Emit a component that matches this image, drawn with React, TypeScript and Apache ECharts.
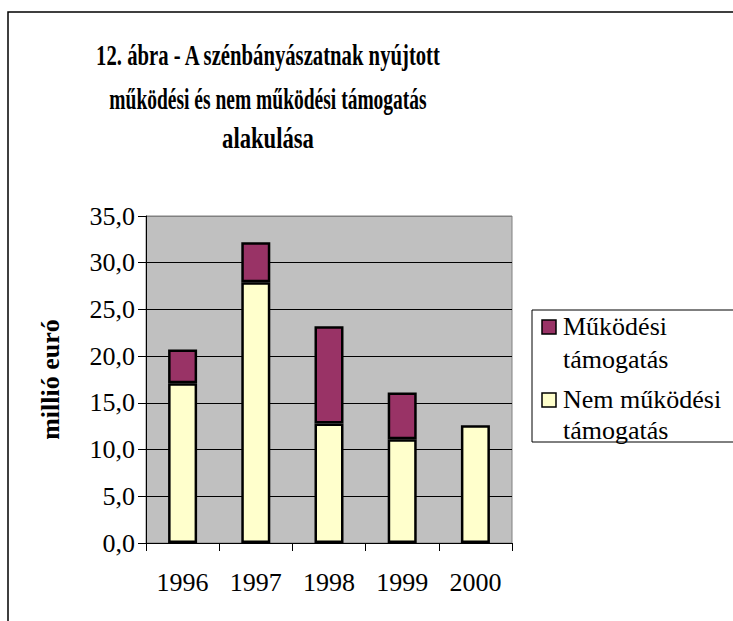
import React, { useEffect, useRef } from "react";
import * as echarts from "echarts";

const years = ["1996", "1997", "1998", "1999", "2000"];
const nemMukodesi = [17.1, 27.9, 12.8, 11.1, 12.6];
const mukodesi = [3.6, 4.3, 10.4, 5.0, 0];
const seriesNames = ["Működési támogatás", "Nem működési támogatás"];
const titleLines = [
  "12. ábra - A szénbányászatnak nyújtott",
  "működési és nem működési támogatás",
  "alakulása",
];
const yAxisName = "millió euró";

const PURPLE = "#993366";
const YELLOW = "#FFFFCC";
const FONT = "'Liberation Serif', 'Times New Roman', serif";

export default function App() {
  const ref = useRef<HTMLDivElement>(null);
  useEffect(() => {
    document.body.style.margin = "0";
    if (!ref.current) return;
    const chart = echarts.init(ref.current, null, { renderer: "svg" });
    const titleScale = [0.69, 0.65, 0.755];
    const titleY = [55, 98, 138];
    chart.setOption({
      animation: false,
      backgroundColor: "#ffffff",
      textStyle: { fontFamily: FONT },
      grid: {
        left: 146,
        top: 216,
        right: 221,
        bottom: 78,
        show: true,
        backgroundColor: "#C0C0C0",
        borderColor: "#808080",
        borderWidth: 1,
      },
      xAxis: {
        type: "category",
        data: years,
        axisLine: { lineStyle: { color: "#000", width: 1 } },
        axisTick: { show: true, length: 8, inside: false, lineStyle: { color: "#000" } },
        axisLabel: { fontFamily: FONT, fontSize: 26, color: "#000", margin: 26 },
      },
      yAxis: {
        type: "value",
        min: 0,
        max: 35,
        interval: 5,
        name: yAxisName,
        nameLocation: "middle",
        nameGap: 83,
        nameTextStyle: { fontFamily: FONT, fontWeight: "bold", fontSize: 26, color: "#000" },
        axisLine: { show: true, lineStyle: { color: "#000", width: 1 } },
        axisTick: { show: true, length: 8, lineStyle: { color: "#000" } },
        axisLabel: {
          fontFamily: FONT,
          fontSize: 26,
          color: "#000",
          margin: 11,
          formatter: (v: number) => v.toFixed(1).replace(".", ","),
        },
        splitLine: {
          show: true,
          lineStyle: {
            color: ["#000", "#000", "#000", "#000", "#000", "#000", "#000", "#808080"],
            width: 1,
          },
        },
      },
      legend: { show: false },
      series: [
        {
          name: seriesNames[1],
          type: "bar",
          stack: "total",
          data: nemMukodesi,
          barWidth: 29,
          itemStyle: { color: YELLOW, borderColor: "#000", borderWidth: 2.5 },
        },
        {
          name: seriesNames[0],
          type: "bar",
          stack: "total",
          data: mukodesi.map((v) => (v === 0 ? null : v)),
          barWidth: 29,
          itemStyle: { color: PURPLE, borderColor: "#000", borderWidth: 2.5 },
        },
      ],
      graphic: [
        {
          type: "rect",
          shape: { x: 8, y: 12, width: 760, height: 640 },
          style: { fill: "none", stroke: "#000", lineWidth: 1.5 },
          silent: true,
        },
        ...titleLines.map((line, i) => ({
          type: "text",
          x: 268,
          y: titleY[i],
          scaleX: titleScale[i],
          style: {
            text: line,
            font: `bold 30px ${FONT}`,
            fill: "#000",
            align: "center",
            verticalAlign: "middle",
          },
        })),
        {
          type: "rect",
          shape: { x: 532, y: 310, width: 240, height: 132 },
          style: { fill: "none", stroke: "#000", lineWidth: 1 },
          silent: true,
        },
        {
          type: "rect",
          shape: { x: 542, y: 320, width: 14, height: 14 },
          style: { fill: PURPLE, stroke: "#000", lineWidth: 1.5 },
        },
        {
          type: "text",
          x: 563,
          y: 310,
          style: {
            text: "Működési\ntámogatás",
            font: `26px ${FONT}`,
            lineHeight: 33,
            fill: "#000",
            verticalAlign: "top",
          },
        },
        {
          type: "rect",
          shape: { x: 542, y: 393, width: 14, height: 14 },
          style: { fill: YELLOW, stroke: "#000", lineWidth: 1.5 },
        },
        {
          type: "text",
          x: 563,
          y: 384,
          style: {
            text: "Nem működési\ntámogatás",
            font: `26px ${FONT}`,
            lineHeight: 31,
            fill: "#000",
            verticalAlign: "top",
          },
        },
      ],
    });
    return () => chart.dispose();
  }, []);
  return <div ref={ref} style={{ width: 733, height: 621 }} />;
}
